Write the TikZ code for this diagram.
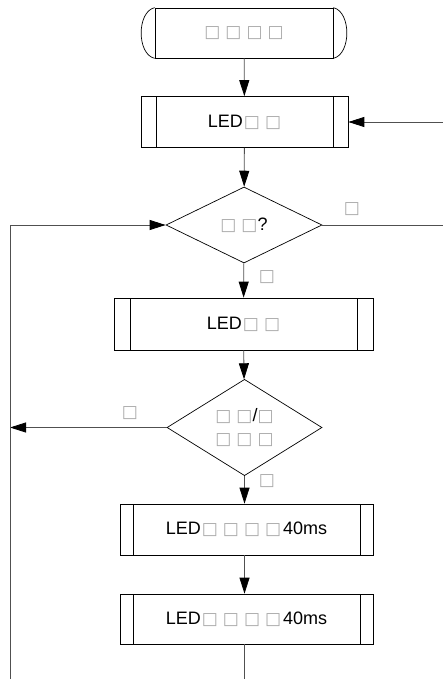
\documentclass[tikz,border=0pt]{standalone}
\usepackage{fontspec}
\setmainfont{Liberation Sans}
\newfontfamily\djv{DejaVu Sans}
\usetikzlibrary{shapes.geometric,arrows.meta}
\definecolor{tofu}{HTML}{AAAAAA}
\definecolor{conn}{HTML}{505050}
\newcommand{\tf}{{\djv\fontsize{17}{17}\selectfont\color{tofu}□}}
\newcommand{\tg}{\hspace{5pt}}
\begin{document}
\begin{tikzpicture}[x=1pt,y=-1pt,
  every node/.style={font=\fontsize{18}{23}\selectfont, inner sep=0pt},
  shp/.style={draw=black, line width=0.7pt},
  sub/.style={shp, rectangle, path picture={
      \draw[black, line width=0.7pt] ([xshift=#1]path picture bounding box.north west) -- ([xshift=#1]path picture bounding box.south west);
      \draw[black, line width=0.7pt] ([xshift=-#1]path picture bounding box.north east) -- ([xshift=-#1]path picture bounding box.south east);}},
  dec/.style={shp, diamond, align=center},
  conn/.style={draw=conn, line width=0.8pt},
  arr/.style={conn, -{Triangle[length=16pt,width=10pt,color=black]}},
  lbl/.style={}]
\useasboundingbox (0,0) rectangle (442,679);

\node[shp, rectangle, minimum width=178pt, minimum height=50pt] (start) at (244,33) {\tf\tg\tf\tg\tf\tg\tf};
\draw[shp] (start.north west) .. controls +(-18,4) and +(-18,-4) .. (start.south west);
\draw[shp] (start.north east) .. controls +(18,4) and +(18,-4) .. (start.south east);

\node[sub=15pt, minimum width=207pt, minimum height=51pt] (b1) at (244.5,122) {LED\hspace{1pt}\tf\tg\tf};
\node[dec, minimum width=156pt, minimum height=76pt] (d1) at (244,225) {\tf\tg\tf?};
\node[sub=16pt, minimum width=259pt, minimum height=52pt] (b2) at (243.5,324) {LED\hspace{1pt}\tf\tg\tf};
\node[dec, minimum width=155pt, minimum height=76pt] (d2) at (244.5,427.5) {\tf\tg\tf/\tf\\\tf\tg\tf\tg\tf};
\node[sub=13pt, minimum width=253pt, minimum height=51pt] (b3) at (246.5,529.5) {LED\hspace{1pt}\tf\tg\tf\tg\tf\tg\tf\hspace{2pt}40ms};
\node[sub=13pt, minimum width=253pt, minimum height=50pt] (b4) at (246.5,619) {LED\hspace{1pt}\tf\tg\tf\tg\tf\tg\tf\hspace{2pt}40ms};

\coordinate (rt) at (447,225);
\coordinate (lt) at (10,225);
\coordinate (lm) at (10,427.5);
\coordinate (bb) at (244.5,700);
\coordinate (lb) at (10,700);

\draw[arr] (start) -- (b1);
\draw[arr] (d1.east) -- (rt) |- (b1.east);
\draw[arr] (b1) -- (d1);
\draw[arr] (d1) -- (b2);
\draw[arr] (b2) -- (d2);
\draw[arr] (d2.west) -- (lm);
\draw[arr] (d2.south) -- (d2.south |- b3.north);
\draw[arr] (d2.south |- b3.south) -- (d2.south |- b4.north);
\draw[arr] (d2.south |- b4.south) -- (bb) -- (lb) -- (lt) -- (d1.west);

\node[lbl] (l1) at (352,209) {\tf};
\node[lbl] (l2) at (267,277) {\tf};
\node[lbl] (l3) at (130,413) {\tf};
\node[lbl] (l4) at (267,481) {\tf};
\end{tikzpicture}
\end{document}
